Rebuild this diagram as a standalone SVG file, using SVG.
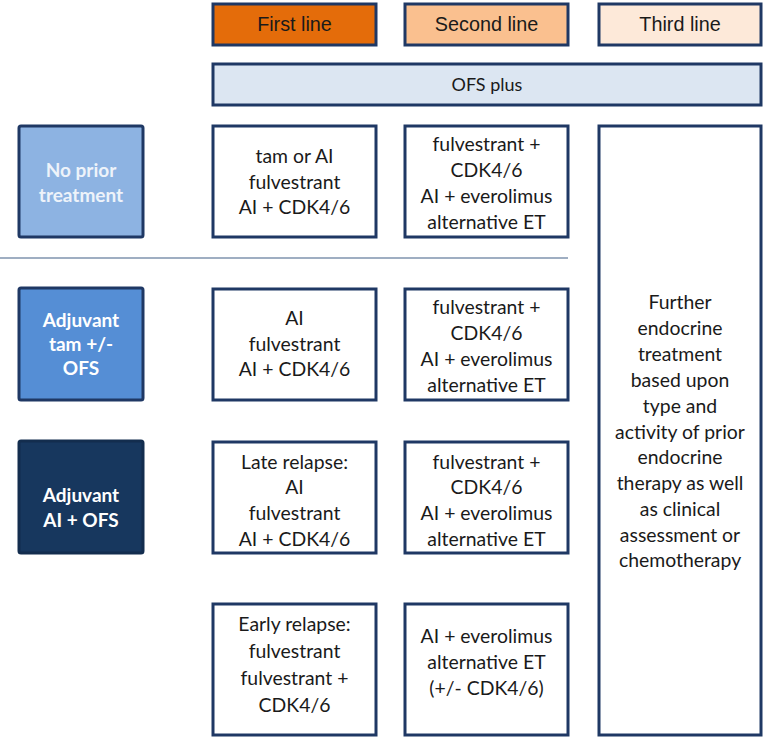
<svg xmlns="http://www.w3.org/2000/svg" width="765" height="739" viewBox="0 0 765 739">
<style>
  .box{stroke:#1F3864;stroke-width:3;}
  .w{fill:#ffffff;}
  .t{font-family:Lato,"Open Sans","Liberation Sans",sans-serif;font-size:19.4px;fill:#1a1a1a;text-anchor:middle;}
  .h{font-family:"Liberation Sans",Arial,sans-serif;font-size:19.8px;fill:#1a1a1a;text-anchor:middle;}
  .l{font-family:Lato,"Open Sans","Liberation Sans",sans-serif;font-size:19px;font-weight:bold;text-anchor:middle;}
</style>
<rect width="765" height="739" fill="#ffffff"/>
<g id="hdr-first">
  <rect class="box" x="213" y="4" width="163" height="41" fill="#E46C0A"/>
  <text class="h" x="294.5" y="31">First line</text>
</g>
<g id="hdr-second">
  <rect class="box" x="405" y="4" width="163" height="41" fill="#FAC08F"/>
  <text class="h" x="486.5" y="31">Second line</text>
</g>
<g id="hdr-third">
  <rect class="box" x="599" y="4" width="162" height="41" fill="#FDE9D9"/>
  <text class="h" x="680" y="31">Third line</text>
</g>
<g id="ofs-plus">
  <rect class="box" x="213" y="64" width="548" height="41" fill="#DCE6F2"/>
  <text class="t" x="487" y="91" style="font-size:18px">OFS plus</text>
</g>
<g id="connectors">
  <line x1="0" y1="258" x2="568" y2="258" stroke="#7F93AE" stroke-width="1.5"/>
</g>
<g id="no-prior">
  <rect x="19" y="126" width="124" height="111" rx="2" fill="#8DB3E2" stroke="#1F3864" stroke-width="3"/>
  <text class="l" x="81" y="177" fill="#EEF3FA">No prior</text>
  <text class="l" x="81" y="202" fill="#EEF3FA">treatment</text>
</g>
<g id="adj-tam">
  <rect x="19" y="288" width="124" height="112" rx="2" fill="#558ED5" stroke="#1F3864" stroke-width="3"/>
  <text class="l" x="81" y="327" fill="#ffffff">Adjuvant</text>
  <text class="l" x="81" y="351" fill="#ffffff">tam +/-</text>
  <text class="l" x="81" y="375" fill="#ffffff">OFS</text>
</g>
<g id="adj-ai">
  <rect x="19" y="441" width="124" height="112" rx="2" fill="#17375E" stroke="#132D4E" stroke-width="3"/>
  <text class="l" x="81" y="502" fill="#ffffff">Adjuvant</text>
  <text class="l" x="81" y="527" fill="#ffffff">AI + OFS</text>
</g>
<g id="r1-first">
  <rect class="box w" x="213" y="126" width="163" height="111"/>
  <text class="t" x="294.5" y="163">tam or AI</text>
  <text class="t" x="294.5" y="189">fulvestrant</text>
  <text class="t" x="294.5" y="214">AI + CDK4/6</text>
</g>
<g id="r1-second">
  <rect class="box w" x="405" y="126" width="163" height="111"/>
  <text class="t" x="486.5" y="151">fulvestrant +</text>
  <text class="t" x="486.5" y="177">CDK4/6</text>
  <text class="t" x="486.5" y="203">AI + everolimus</text>
  <text class="t" x="486.5" y="229">alternative ET</text>
</g>
<g id="r2-first">
  <rect class="box w" x="213" y="289" width="163" height="111"/>
  <text class="t" x="294.5" y="325">AI</text>
  <text class="t" x="294.5" y="351">fulvestrant</text>
  <text class="t" x="294.5" y="376">AI + CDK4/6</text>
</g>
<g id="r2-second">
  <rect class="box w" x="405" y="289" width="163" height="111"/>
  <text class="t" x="486.5" y="314">fulvestrant +</text>
  <text class="t" x="486.5" y="340">CDK4/6</text>
  <text class="t" x="486.5" y="366">AI + everolimus</text>
  <text class="t" x="486.5" y="392">alternative ET</text>
</g>
<g id="r3-first">
  <rect class="box w" x="213" y="442" width="163" height="111"/>
  <text class="t" x="294.5" y="469">Late relapse:</text>
  <text class="t" x="294.5" y="494">AI</text>
  <text class="t" x="294.5" y="520">fulvestrant</text>
  <text class="t" x="294.5" y="546">AI + CDK4/6</text>
</g>
<g id="r3-second">
  <rect class="box w" x="405" y="442" width="163" height="111"/>
  <text class="t" x="486.5" y="469">fulvestrant +</text>
  <text class="t" x="486.5" y="494">CDK4/6</text>
  <text class="t" x="486.5" y="520">AI + everolimus</text>
  <text class="t" x="486.5" y="546">alternative ET</text>
</g>
<g id="r4-first">
  <rect class="box w" x="213" y="604" width="163" height="131"/>
  <text class="t" x="294.5" y="631">Early relapse:</text>
  <text class="t" x="294.5" y="658">fulvestrant</text>
  <text class="t" x="294.5" y="685">fulvestrant +</text>
  <text class="t" x="294.5" y="712">CDK4/6</text>
</g>
<g id="r4-second">
  <rect class="box w" x="405" y="604" width="163" height="131"/>
  <text class="t" x="486.5" y="643">AI + everolimus</text>
  <text class="t" x="486.5" y="669">alternative ET</text>
  <text class="t" x="486.5" y="695">(+/- CDK4/6)</text>
</g>
<g id="third-line">
  <rect class="box w" x="599" y="126" width="162" height="609"/>
  <text class="t" x="680" y="309">Further</text>
  <text class="t" x="680" y="335">endocrine</text>
  <text class="t" x="680" y="361">treatment</text>
  <text class="t" x="680" y="387">based upon</text>
  <text class="t" x="680" y="413">type and</text>
  <text class="t" x="680" y="439">activity of prior</text>
  <text class="t" x="680" y="464">endocrine</text>
  <text class="t" x="680" y="490">therapy  as well</text>
  <text class="t" x="680" y="516">as clinical</text>
  <text class="t" x="680" y="542">assessment or</text>
  <text class="t" x="680" y="567">chemotherapy</text>
</g>
</svg>
